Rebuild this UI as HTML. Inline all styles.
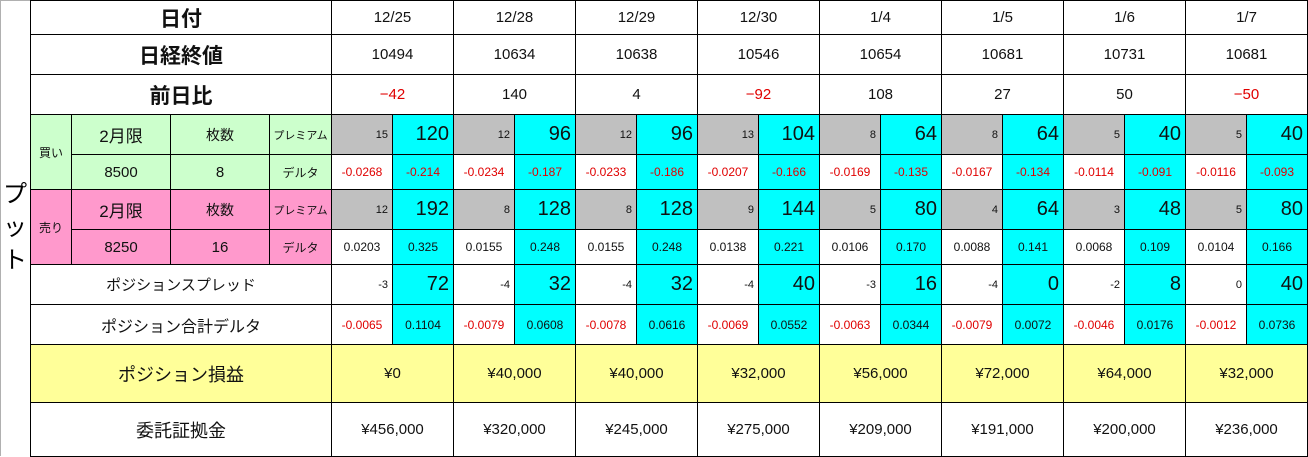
<!DOCTYPE html>
<html><head><meta charset="utf-8"><style>
body{margin:0;background:#fff;width:1308px;height:457px;overflow:hidden;font-family:"Liberation Sans","Noto Sans CJK JP",sans-serif;}
#wrap{position:absolute;left:0;top:0;width:1306px;height:455px;border:1px solid #b0b0b0;border-bottom:none;}
table{position:absolute;left:30px;top:0;border-collapse:collapse;table-layout:fixed;}
td{border:1px solid #000;padding:0;text-align:center;color:#111;white-space:nowrap;overflow:hidden;}
.h{font-size:21px;font-weight:bold;}
.d{font-size:15px;}
.r{color:#e00000;}
.g{background:#ccffcc;}
.p{background:#ff99cc;}
.gr{background:#c0c0c0;text-align:right;padding-right:4px;font-size:11px;}
.c{background:#00ffff;text-align:right;padding-right:4px;font-size:20px;}
.cs{background:#00ffff;font-size:12px;}
.s{font-size:12px;}
.sm{font-size:11px;}
.y{background:#ffff99;}
.w{text-align:right;padding-right:4px;font-size:11px;}
#put{position:absolute;left:2px;top:178px;width:26px;font-size:24px;line-height:33px;text-align:center;}
</style></head><body>
<div id="wrap"></div>
<div id="put">プ<br>ッ<br>ト</div>
<table>
<colgroup><col style="width:41px"><col style="width:99px"><col style="width:99px"><col style="width:62px">
<col style="width:61px"><col style="width:61px"><col style="width:61px"><col style="width:61px"><col style="width:61px"><col style="width:61px"><col style="width:61px"><col style="width:61px"><col style="width:61px"><col style="width:61px"><col style="width:61px"><col style="width:61px"><col style="width:61px"><col style="width:61px"><col style="width:61px"><col style="width:61px"></colgroup>
<tr style="height:34px"><td colspan="4" class="h">日付</td><td colspan="2" class="d">12/25</td><td colspan="2" class="d">12/28</td><td colspan="2" class="d">12/29</td><td colspan="2" class="d">12/30</td><td colspan="2" class="d">1/4</td><td colspan="2" class="d">1/5</td><td colspan="2" class="d">1/6</td><td colspan="2" class="d">1/7</td></tr>
<tr style="height:40px"><td colspan="4" class="h">日経終値</td><td colspan="2" class="d">10494</td><td colspan="2" class="d">10634</td><td colspan="2" class="d">10638</td><td colspan="2" class="d">10546</td><td colspan="2" class="d">10654</td><td colspan="2" class="d">10681</td><td colspan="2" class="d">10731</td><td colspan="2" class="d">10681</td></tr>
<tr style="height:40px"><td colspan="4" class="h">前日比</td><td colspan="2" class="d r">−42</td><td colspan="2" class="d">140</td><td colspan="2" class="d">4</td><td colspan="2" class="d r">−92</td><td colspan="2" class="d">108</td><td colspan="2" class="d">27</td><td colspan="2" class="d">50</td><td colspan="2" class="d r">−50</td></tr>
<tr style="height:40px"><td rowspan="2" class="g s">買い</td><td class="g" style="font-size:17px">2月限</td><td class="g" style="font-size:14px">枚数</td><td class="g sm">プレミアム</td>
<td class="gr">15</td><td class="c">120</td><td class="gr">12</td><td class="c">96</td><td class="gr">12</td><td class="c">96</td><td class="gr">13</td><td class="c">104</td><td class="gr">8</td><td class="c">64</td><td class="gr">8</td><td class="c">64</td><td class="gr">5</td><td class="c">40</td><td class="gr">5</td><td class="c">40</td></tr>
<tr style="height:35px"><td class="g" style="font-size:15px">8500</td><td class="g" style="font-size:15px">8</td><td class="g s">デルタ</td>
<td class="s r">-0.0268</td><td class="cs r">-0.214</td><td class="s r">-0.0234</td><td class="cs r">-0.187</td><td class="s r">-0.0233</td><td class="cs r">-0.186</td><td class="s r">-0.0207</td><td class="cs r">-0.166</td><td class="s r">-0.0169</td><td class="cs r">-0.135</td><td class="s r">-0.0167</td><td class="cs r">-0.134</td><td class="s r">-0.0114</td><td class="cs r">-0.091</td><td class="s r">-0.0116</td><td class="cs r">-0.093</td></tr>
<tr style="height:40px"><td rowspan="2" class="p s">売り</td><td class="p" style="font-size:17px">2月限</td><td class="p" style="font-size:14px">枚数</td><td class="p sm">プレミアム</td>
<td class="gr">12</td><td class="c">192</td><td class="gr">8</td><td class="c">128</td><td class="gr">8</td><td class="c">128</td><td class="gr">9</td><td class="c">144</td><td class="gr">5</td><td class="c">80</td><td class="gr">4</td><td class="c">64</td><td class="gr">3</td><td class="c">48</td><td class="gr">5</td><td class="c">80</td></tr>
<tr style="height:35px"><td class="p" style="font-size:15px">8250</td><td class="p" style="font-size:15px">16</td><td class="p s">デルタ</td>
<td class="s">0.0203</td><td class="cs">0.325</td><td class="s">0.0155</td><td class="cs">0.248</td><td class="s">0.0155</td><td class="cs">0.248</td><td class="s">0.0138</td><td class="cs">0.221</td><td class="s">0.0106</td><td class="cs">0.170</td><td class="s">0.0088</td><td class="cs">0.141</td><td class="s">0.0068</td><td class="cs">0.109</td><td class="s">0.0104</td><td class="cs">0.166</td></tr>
<tr style="height:40px"><td colspan="4" style="font-size:15px">ポジションスプレッド</td>
<td class="w">-3</td><td class="c">72</td><td class="w">-4</td><td class="c">32</td><td class="w">-4</td><td class="c">32</td><td class="w">-4</td><td class="c">40</td><td class="w">-3</td><td class="c">16</td><td class="w">-4</td><td class="c">0</td><td class="w">-2</td><td class="c">8</td><td class="w">0</td><td class="c">40</td></tr>
<tr style="height:40px"><td colspan="4" style="font-size:16px">ポジション合計デルタ</td>
<td class="s r">-0.0065</td><td class="cs">0.1104</td><td class="s r">-0.0079</td><td class="cs">0.0608</td><td class="s r">-0.0078</td><td class="cs">0.0616</td><td class="s r">-0.0069</td><td class="cs">0.0552</td><td class="s r">-0.0063</td><td class="cs">0.0344</td><td class="s r">-0.0079</td><td class="cs">0.0072</td><td class="s r">-0.0046</td><td class="cs">0.0176</td><td class="s r">-0.0012</td><td class="cs">0.0736</td></tr>
<tr style="height:58px" class="y"><td colspan="4" style="font-size:18px">ポジション損益</td><td colspan="2" class="d">¥0</td><td colspan="2" class="d">¥40,000</td><td colspan="2" class="d">¥40,000</td><td colspan="2" class="d">¥32,000</td><td colspan="2" class="d">¥56,000</td><td colspan="2" class="d">¥72,000</td><td colspan="2" class="d">¥64,000</td><td colspan="2" class="d">¥32,000</td></tr>
<tr style="height:54px"><td colspan="4" style="font-size:18px">委託証拠金</td><td colspan="2" class="d">¥456,000</td><td colspan="2" class="d">¥320,000</td><td colspan="2" class="d">¥245,000</td><td colspan="2" class="d">¥275,000</td><td colspan="2" class="d">¥209,000</td><td colspan="2" class="d">¥191,000</td><td colspan="2" class="d">¥200,000</td><td colspan="2" class="d">¥236,000</td></tr>
</table>
</body></html>
